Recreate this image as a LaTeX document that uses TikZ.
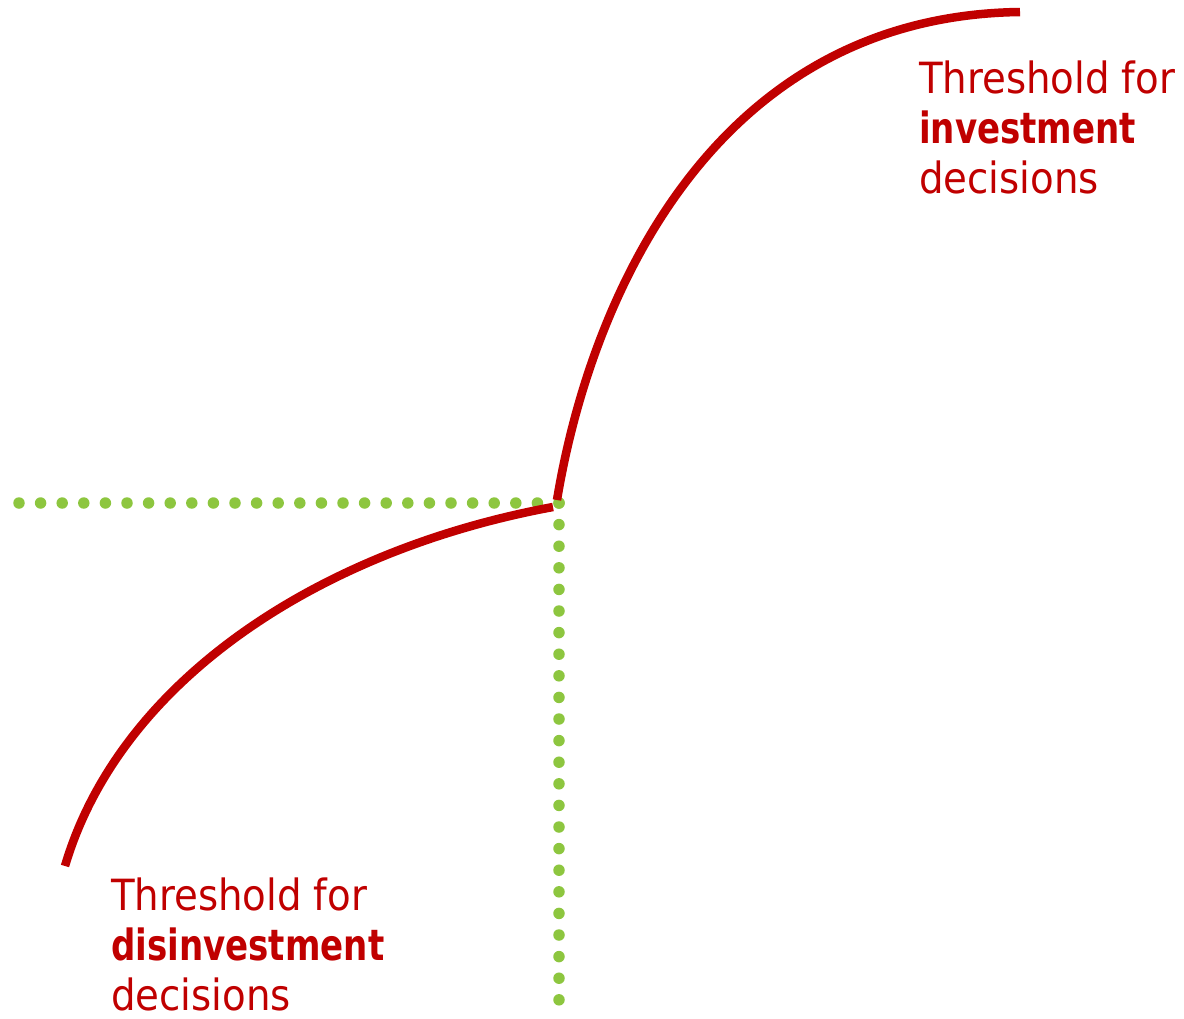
\documentclass[tikz,border=0pt]{standalone}
\usepackage{fontspec}
\setmainfont{DejaVu Sans Condensed}[BoldFeatures={FakeStretch=0.88}]
\usepackage{xcolor}
\usepackage{tikz}
\definecolor{thred}{RGB}{192,0,0}
\definecolor{guidegreen}{RGB}{141,198,63}
\newcommand{\threshfont}{\fontsize{43}{50}\selectfont}

\begin{document}
\begin{tikzpicture}[x=1pt, y=-1pt,
    threshold/.style={draw=thred, line width=8.5pt},
    guide/.style={draw=guidegreen, line width=11.5pt, line cap=round, dash pattern=on 0pt off 21.6pt},
    threshtext/.style={text=thred, align=left, anchor=north west, inner sep=0pt, font=\threshfont}
    ]
    \useasboundingbox (0,0) rectangle (1184,1018);

    % guide lines through the kink
    \coordinate (corner) at (559,503);
    \coordinate (leftend) at (14,503);
    \coordinate (bottomend) at (559,1004);
    \draw[guide] (corner) -- (leftend);
    \draw[guide] (corner) -- (bottomend);

    % the two threshold curves
    \coordinate (invstart) at (557,500);
    \coordinate (invend) at (1020,12);
    \coordinate (disstart) at (65,866);
    \coordinate (disend) at (553,507);
    \draw[threshold] (invstart) .. controls (590,300) and (712,16) .. (invend);
    \draw[threshold] (disstart) .. controls (120,680) and (320,550) .. (disend);

    \node[threshtext] (invest) at (919,61) {Threshold for\\\textbf{investment}\\decisions};
    \node[threshtext] (disinvest) at (111,878) {Threshold for\\\textbf{disinvestment}\\decisions};
\end{tikzpicture}
\end{document}
